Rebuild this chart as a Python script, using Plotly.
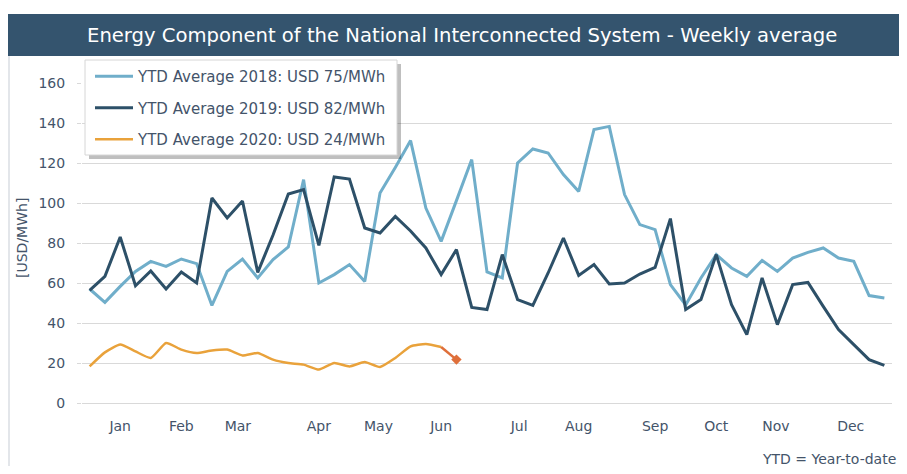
import plotly.graph_objects as go

# ---------------- data ----------------
weeks = list(range(1, 54))

y2018 = [57, 50.3, 58.3, 65.8, 70.8, 68.3, 72, 69.7, 48.8, 65.8,
         72, 62.5, 71.7, 78, 111.7, 60, 64.2, 69.2, 60.8, 105,
         117.8, 131.2, 97.5, 80.8, 101.2, 121.7, 65.5, 62.5, 120, 127,
         125, 114.2, 105.8, 136.7, 138.3, 104.2, 89.2, 86.7, 59.2, 49,
         62.5, 74.2, 67.5, 63.3, 71.3, 65.8, 72.5, 75.3, 77.5, 72.5,
         70.8, 53.7, 52.5]

y2019 = [56.3, 63.3, 83, 58.6, 66, 57, 65.5, 60, 102.5, 92.5,
         101, 65.3, 84, 104.5, 106.7, 78.8, 113, 112, 87.5, 85,
         93.3, 86, 77.5, 64.2, 76.7, 47.8, 46.7, 74.2, 51.7, 48.8,
         65, 82.5, 63.8, 69.2, 59.5, 60, 64.5, 67.8, 92.2, 46.7,
         51.7, 74.2, 49.2, 34.2, 62.5, 39.2, 59.2, 60.3, 48.3, 36.7,
         29.2, 21.7, 18.8]

y2020 = [18.3, 25.3, 29.2, 25.8, 22.5, 30, 26.7, 25, 26.3, 26.7,
         23.8, 25, 21.7, 20, 19.2, 16.7, 20, 18.3, 20.5, 18,
         22.5, 28.3, 29.5, 28, 21.7]

series_names = ["YTD Average 2018: USD 75/MWh",
                "YTD Average 2019: USD 82/MWh",
                "YTD Average 2020: USD 24/MWh"]

month_labels = ["Jan", "Feb", "Mar", "Apr", "May", "Jun",
                "Jul", "Aug", "Sep", "Oct", "Nov", "Dec"]
month_weeks = [3.0, 7.0, 10.7, 16.0, 19.9, 24.0, 29.1, 33.0, 38.0, 42.0, 45.9, 50.8]

# ---------------- style ----------------
C18 = "#70AECA"
C19 = "#2D5068"
C20 = "#E9A23B"
CRED = "#DF6F3A"
TXT = "#44546A"
FONT = "DejaVu Sans"

fig = go.Figure()
fig.add_trace(go.Scatter(x=weeks, y=y2018, mode="lines", name=series_names[0],
                         line=dict(color=C18, width=3), legendgroup="g1"))
fig.add_trace(go.Scatter(x=weeks, y=y2019, mode="lines", name=series_names[1],
                         line=dict(color=C19, width=3), legendgroup="g2"))
n20 = len(y2020)
fig.add_trace(go.Scatter(x=weeks[:n20 - 1], y=y2020[:n20 - 1], mode="lines", name=series_names[2],
                         line=dict(color=C20, width=2.5, shape="spline", smoothing=0.5),
                         legendgroup="g3"))
fig.add_trace(go.Scatter(x=weeks[n20 - 2:n20], y=y2020[n20 - 2:n20], mode="lines",
                         line=dict(color=CRED, width=2.5), showlegend=False, legendgroup="g3"))
fig.add_trace(go.Scatter(x=weeks[n20 - 1:n20], y=y2020[n20 - 1:n20], mode="markers",
                         marker=dict(color=CRED, size=8, symbol="diamond"),
                         showlegend=False, legendgroup="g3"))

# page has an 8px body margin: figure origin sits at page (8, 8);
# keep figure small enough that the page does not scroll
OFF = 8
PAGE_W, PAGE_H = 907, 474
W, H = PAGE_W - 2 * OFF, PAGE_H - 2 * OFF
PL, PT, PR, PB = 82, 83, 892, 403          # plot area in page pixels
L, T = PL - OFF, PT - OFF
R, B = (OFF + W) - PR, (OFF + H) - PB
pw, ph = PR - PL, PB - PT


def px(x):
    return (x - PL) / pw


def py(y):
    return (PB - y) / ph


shapes = [
    # title bar
    dict(type="rect", xref="paper", yref="paper", x0=px(8), x1=px(908), y0=py(56), y1=py(14),
         fillcolor="#34546E", line=dict(width=0), layer="above"),
    # left frame line
    dict(type="line", xref="paper", yref="paper", x0=px(9), x1=px(9), y0=py(56), y1=py(474),
         line=dict(color="#E3E6EA", width=2), layer="above"),
    # legend shadow
    dict(type="rect", xref="paper", yref="paper", x0=px(89), x1=px(401), y0=py(159), y1=py(64),
         fillcolor="rgba(0,0,0,0.25)", line=dict(width=0), layer="above"),
    # legend box
    dict(type="rect", xref="paper", yref="paper", x0=px(85), x1=px(397), y0=py(155), y1=py(60),
         fillcolor="white", line=dict(color="#D6D6D6", width=1), layer="above"),
]

annotations = [
    dict(text="Energy Component of the National Interconnected System - Weekly average",
         xref="paper", yref="paper", x=px(462), y=py(35), xanchor="center", yanchor="middle",
         showarrow=False, font=dict(family=FONT, size=19.6, color="white")),
    dict(text="[USD/MWh]", xref="paper", yref="paper", x=px(22), y=py(238), textangle=-90,
         xanchor="center", yanchor="middle", showarrow=False,
         font=dict(family=FONT, size=14, color=TXT)),
    dict(text="YTD = Year-to-date", xref="paper", yref="paper", x=px(898), y=py(459),
         xanchor="right", yanchor="middle", showarrow=False,
         font=dict(family=FONT, size=14, color=TXT)),
]

fig.update_layout(
    width=W, height=H,
    margin=dict(l=L, r=R, t=T, b=B, pad=0),
    paper_bgcolor="white", plot_bgcolor="white",
    showlegend=True,
    legend=dict(x=px(90), y=py(60), xanchor="left", yanchor="top",
                bgcolor="rgba(0,0,0,0)", borderwidth=0,
                traceorder="grouped", tracegroupgap=9, itemwidth=38,
                font=dict(family=FONT, size=15, color=TXT)),
    shapes=shapes,
    annotations=annotations,
    xaxis=dict(range=[0.5, 53.5], tickmode="array", tickvals=month_weeks, ticktext=month_labels,
               showgrid=False, zeroline=False, showline=True, linecolor="#D9D9D9", linewidth=1,
               ticks="", ticklabelstandoff=10,
               tickfont=dict(family=FONT, size=14, color=TXT), fixedrange=True),
    yaxis=dict(range=[0, 160], dtick=20, tick0=0, showgrid=True, gridcolor="#D9D9D9", gridwidth=1,
               zeroline=False, showline=False, ticks="outside", ticklen=4, tickcolor="#D9D9D9",
               ticklabelstandoff=9,
               tickfont=dict(family=FONT, size=14, color=TXT), fixedrange=True),
)

fig.write_html("out.html")
